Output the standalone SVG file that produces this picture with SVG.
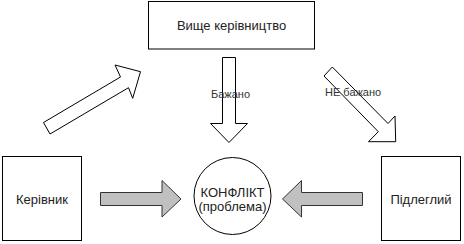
<svg xmlns="http://www.w3.org/2000/svg" width="464" height="244" viewBox="0 0 464 244">
<style>
.box{fill:#fff;stroke:#000;stroke-width:1}
.t{font-family:"Liberation Sans",Arial,sans-serif;font-size:13px;fill:#222;text-anchor:middle}
.lbl{font-family:"Liberation Sans",Arial,sans-serif;font-size:11px;fill:#333}
.hollow{fill:#fff;stroke:#000;stroke-width:1}
.gray{fill:#c0c0c0;stroke:#333;stroke-width:1}
</style>
<rect width="464" height="244" fill="#fff"/>
<g id="connectors">
  <polygon class="hollow" points="43.5,122.5 120.5,77 115,65 140.5,71.7 132.7,98.3 128.5,87.7 50,134"/>
  <polygon class="hollow" points="222.5,57.5 235.5,57.5 235.5,123.5 247.5,123.5 229,142.5 210.5,123.5 222.5,123.5"/>
  <polygon class="hollow" points="324,76 332.3,67 388,123.5 395,116 395.7,141.7 368.5,141.7 378.3,131.7"/>
  <polygon class="gray" points="100.5,192.5 162,192.5 162,180.5 181,199 162,217 162,205.5 100.5,205.5"/>
  <polygon class="gray" points="362.5,192.5 301.5,192.5 301.5,180.5 282.5,199 301.5,217 301.5,205.5 362.5,205.5"/>
  <text class="lbl" x="211" y="97.5">Бажано</text>
  <text class="lbl" x="325" y="95.7">НЕ бажано</text>
</g>
<g id="node-top">
  <rect class="box" x="148.5" y="1.5" width="166" height="47.5"/>
  <text class="t" x="231.5" y="29.5">Вище керівництво</text>
</g>
<g id="node-left">
  <rect class="box" x="2.5" y="156.5" width="79" height="84"/>
  <text class="t" x="42" y="204">Керівник</text>
</g>
<g id="node-right">
  <rect class="box" x="381.5" y="156.5" width="79" height="84"/>
  <text class="t" x="421" y="204">Підлеглий</text>
</g>
<g id="node-conflict">
  <circle class="box" cx="232.5" cy="196" r="38.5"/>
  <text class="t" x="232.5" y="197">КОНФЛІКТ</text>
  <text class="t" x="232.5" y="210.5">(проблема)</text>
</g>
</svg>
